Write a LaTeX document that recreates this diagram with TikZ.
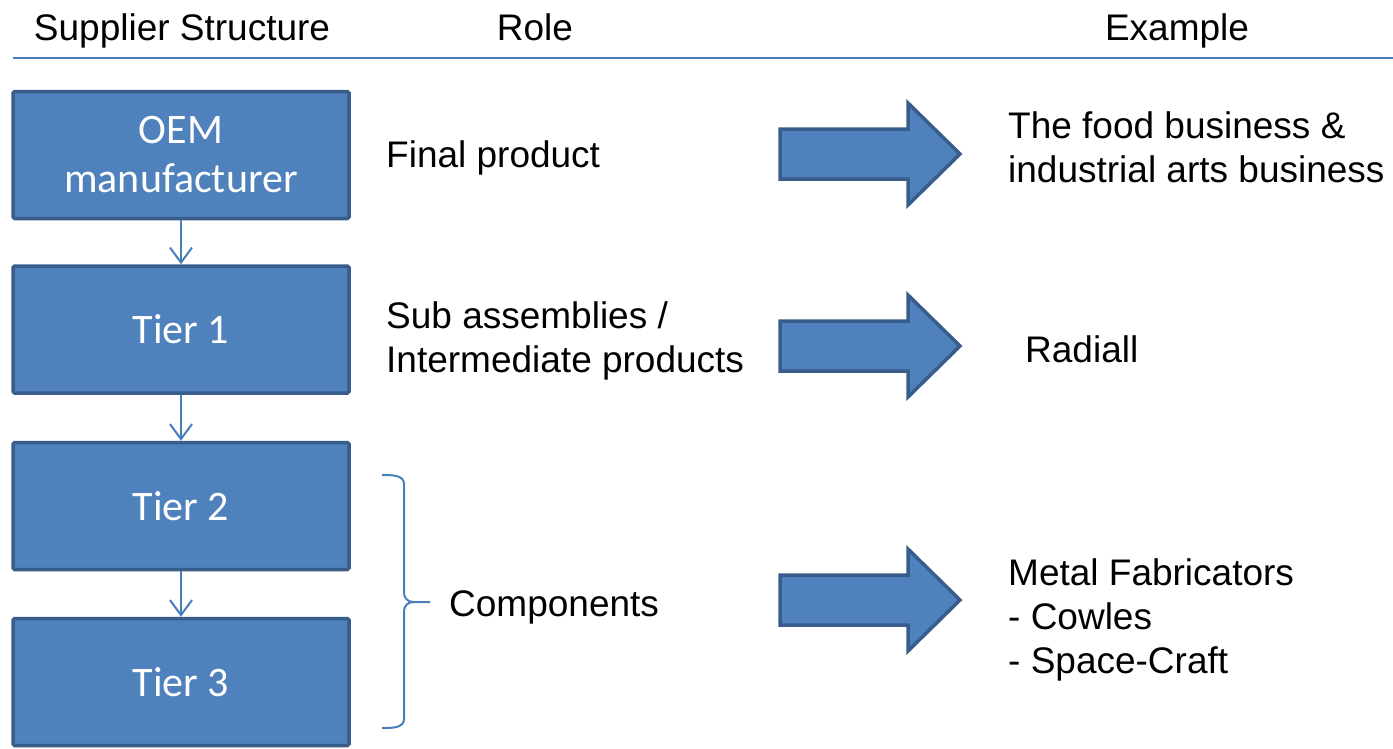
\documentclass[tikz,border=0pt]{standalone}
\usepackage{fontspec}
\setmainfont{Liberation Sans}
\newfontfamily\boxfont{Carlito}
\usetikzlibrary{arrows.meta}
\definecolor{boxfill}{HTML}{4F81BD}
\definecolor{boxline}{HTML}{385D8A}
\definecolor{thinblue}{HTML}{4A7EBB}
\tikzset{
  tierbox/.style={draw=boxline, fill=boxfill, line width=3.5pt, rounded corners=1.5pt,
    minimum width=336pt, minimum height=127pt, inner sep=0pt, text=white,
    font=\boxfont\fontsize{42}{49}\selectfont, align=center},
  smallarrow/.style={draw=thinblue, line width=2pt, -{Straight Barb[length=15pt,width=22pt,line width=2pt]}},
  bodytext/.style={font=\fontsize{37}{44}\selectfont, inner sep=0pt, align=left, anchor=west, text=black},
  headtext/.style={font=\fontsize{37}{44}\selectfont, inner sep=0pt, anchor=base, text=black},
  headline/.style={draw=thinblue, line width=1.6pt},
  brace/.style={draw=thinblue, line width=2pt},
  bigarrowstyle/.style={draw=boxline, fill=boxfill, line width=3.5pt, line join=miter},
  bigarrow/.pic={\draw[bigarrowstyle] (0,-25) -- (128,-25) -- (128,-51) -- (180,0) -- (128,51) -- (128,25) -- (0,25) -- cycle;}
}
\begin{document}
\begin{tikzpicture}[x=1pt,y=-1pt]
\useasboundingbox (0,0) rectangle (1393,748);
% header
\node[headtext] (h1) at (182,40) {Supplier Structure};
\node[headtext] (h2) at (535,40) {Role};
\node[headtext] (h3) at (1177,40) {Example};
\draw[headline] (13,58) -- (1393,58);
% boxes
\node[tierbox] (oem) at (181,155) {OEM\\manufacturer};
\node[tierbox] (t1) at (181,329.5) {\raisebox{-3pt}{Tier 1}};
\node[tierbox] (t2) at (181,506) {\raisebox{-2pt}{Tier 2}};
\node[tierbox] (t3) at (181,682) {\raisebox{-2pt}{Tier 3}};
\draw[smallarrow] (oem.south) -- (t1.north);
\draw[smallarrow] (t1.south) -- (t2.north);
\draw[smallarrow] (t2.south) -- (t3.north);
% roles
\node[bodytext] (r1) at (386,158) {Final product};
\node[bodytext] (r2) at (386,341) {Sub assemblies /\\Intermediate products};
\node[bodytext] (r3) at (449,607) {Components};
% brace
\draw[brace] (382,475) to[out=0,in=90] (404,484) -- (404,593) to[out=-90,in=180] (413,602) -- (430,602);
\draw[brace] (382,728) to[out=0,in=-90] (404,719) -- (404,611) to[out=90,in=180] (413,602);
% big arrows
\pic (a1) at (780,154) {bigarrow};
\pic (a2) at (780,346) {bigarrow};
\pic (a3) at (780,600) {bigarrow};
% examples
\node[bodytext] (e1) at (1008,147) {The food business \&\\industrial arts business};
\node[bodytext] (e2) at (1025,349) {Radiall};
\node[bodytext] (e3) at (1008,620) {Metal Fabricators\\- Cowles\\- Space-Craft};
\end{tikzpicture}
\end{document}
